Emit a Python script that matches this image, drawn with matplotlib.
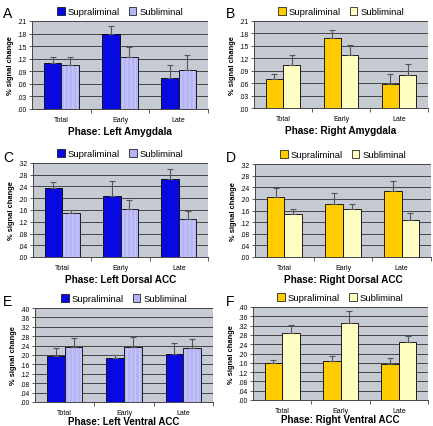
import matplotlib
matplotlib.use("Agg")
import matplotlib.pyplot as plt
import numpy as np
from matplotlib.patches import Patch

plt.rcParams['font.family'] = ['Liberation Sans', 'DejaVu Sans']

categories = ["Total", "Early", "Late"]
series_names = ["Supraliminal", "Subliminal"]

panel_letters = ["A", "B", "C", "D", "E", "F"]
panel_titles = ["Phase: Left Amygdala", "Phase: Right Amygdala",
                "Phase: Left Dorsal ACC", "Phase: Right Dorsal ACC",
                "Phase: Left Ventral ACC", "Phase: Right Ventral ACC"]

supra_A = [0.109, 0.180, 0.075]; supra_A_err = [0.014, 0.018, 0.030]
sub_A = [0.105, 0.123, 0.093];   sub_A_err = [0.018, 0.024, 0.035]
supra_B = [0.069, 0.168, 0.057]; supra_B_err = [0.012, 0.020, 0.024]
sub_B = [0.103, 0.129, 0.079];   sub_B_err = [0.024, 0.023, 0.028]
supra_C = [0.234, 0.209, 0.265]; supra_C_err = [0.021, 0.050, 0.034]
sub_C = [0.149, 0.162, 0.131];   sub_C_err = [0.011, 0.031, 0.027]
supra_D = [0.207, 0.181, 0.228]; supra_D_err = [0.030, 0.038, 0.032]
sub_D = [0.147, 0.166, 0.129];   sub_D_err = [0.018, 0.016, 0.024]
supra_E = [0.196, 0.186, 0.206]; supra_E_err = [0.032, 0.016, 0.047]
sub_E = [0.232, 0.236, 0.228];   sub_E_err = [0.040, 0.039, 0.040]
supra_F = [0.157, 0.169, 0.153]; supra_F_err = [0.013, 0.020, 0.027]
sub_F = [0.290, 0.331, 0.251];   sub_F_err = [0.032, 0.050, 0.026]

yticks_AB = [0.00, 0.03, 0.06, 0.09, 0.12, 0.15, 0.18, 0.21]
yticks_CD = [0.00, 0.04, 0.08, 0.12, 0.16, 0.20, 0.24, 0.28, 0.32]
yticks_EF = [0.00, 0.04, 0.08, 0.12, 0.16, 0.20, 0.24, 0.28, 0.32, 0.36, 0.40]

panels = [
    (supra_A, supra_A_err, sub_A, sub_A_err, yticks_AB),
    (supra_B, supra_B_err, sub_B, sub_B_err, yticks_AB),
    (supra_C, supra_C_err, sub_C, sub_C_err, yticks_CD),
    (supra_D, supra_D_err, sub_D, sub_D_err, yticks_CD),
    (supra_E, supra_E_err, sub_E, sub_E_err, yticks_EF),
    (supra_F, supra_F_err, sub_F, sub_F_err, yticks_EF),
]

# pixel boxes: left, right, top, bottom
W, H = 433, 427
boxes = [(32, 208, 22, 110), (254, 428, 22, 109),
         (33, 208, 164, 258), (255, 431, 165, 258),
         (35, 213, 309, 403), (253, 428, 308, 401)]

blue_colors = ("#0808E0", "#B4B4F6")
yellow_colors = ("#FFCC00", "#FFFFC4")
bg = "#C6CAD2"

fig = plt.figure(figsize=(W / 100, H / 100), dpi=100)

for i, (sup, sup_e, sub, sub_e, yt) in enumerate(panels):
    l, r, t, b = boxes[i]
    ax = fig.add_axes([l / W, 1 - b / H, (r - l) / W, (b - t) / H])
    ax.set_facecolor(bg)
    cols = blue_colors if i % 2 == 0 else yellow_colors
    x = np.arange(len(categories))
    w = 0.3
    ax.bar(x - w / 2, sup, w, color=cols[0], edgecolor="black", linewidth=0.6, zorder=3)
    if i % 2 == 0:
        ax.bar(x + w / 2, sub, w, color=cols[1], edgecolor="#C8C8FA", hatch="||||",
               linewidth=0, zorder=3)
        ax.bar(x + w / 2, sub, w, color="none", edgecolor="black", linewidth=0.6, zorder=3)
    else:
        ax.bar(x + w / 2, sub, w, color=cols[1], edgecolor="black", linewidth=0.6, zorder=3)
    ax.errorbar(x - w / 2, sup, yerr=[np.zeros(3), sup_e], fmt="none",
                ecolor="#555555", elinewidth=0.8, capsize=2, capthick=0.8, zorder=4)
    ax.errorbar(x + w / 2, sub, yerr=[np.zeros(3), sub_e], fmt="none",
                ecolor="#555555", elinewidth=0.8, capsize=2, capthick=0.8, zorder=4)
    ax.set_xlim(-0.5, 2.5)
    ax.set_ylim(yt[0], yt[-1])
    ax.set_yticks(yt)
    ax.set_yticklabels(["." + f"{v:.2f}".split(".")[1] for v in yt], fontsize=4.8)
    ax.yaxis.grid(True, color="#444444", linewidth=0.7, zorder=0)
    ax.set_axisbelow(True)
    ax.set_xticks(x)
    ax.set_xticklabels(categories, fontsize=5)
    ax.tick_params(axis="x", length=0, pad=5)
    ax.set_xticks([0.5, 1.5, 2.5], minor=True)
    ax.tick_params(axis="x", which="minor", length=3, width=0.6, color="#444444")
    ax.tick_params(axis="y", length=2.5, width=0.6, color="#444444", pad=1.5)
    for s in ["top", "right"]:
        ax.spines[s].set_visible(False)
    for s in ["left", "bottom"]:
        ax.spines[s].set_color("#444444")
        ax.spines[s].set_linewidth(0.7)
    ax.set_ylabel("% signal change", fontsize=5.4, fontweight="bold", labelpad=2)
    ax.set_xlabel(panel_titles[i], fontsize=7.2 if i < 4 else 7.0, fontweight="bold",
                  labelpad=2.5 if i < 4 else 0.2)
    handles = [Patch(facecolor=cols[0], edgecolor="black", linewidth=0.5),
               Patch(facecolor=cols[1], edgecolor="black", linewidth=0.5)]
    ax.legend(handles, series_names, loc="lower center", bbox_to_anchor=(0.5, 1.0),
              ncol=2, frameon=False, fontsize=6.8, handlelength=0.8, handleheight=0.8,
              handletextpad=0.3, columnspacing=1.0, borderaxespad=0.1)
    lx = 3 if i % 2 == 0 else 226
    fig.text(lx / W, 1 - 14 / H if i < 2 else 1 - ((158 if i < 4 else 302) / H),
             panel_letters[i], fontsize=10, ha="left", va="center")

fig.savefig("out.png", dpi=100, facecolor="white")
